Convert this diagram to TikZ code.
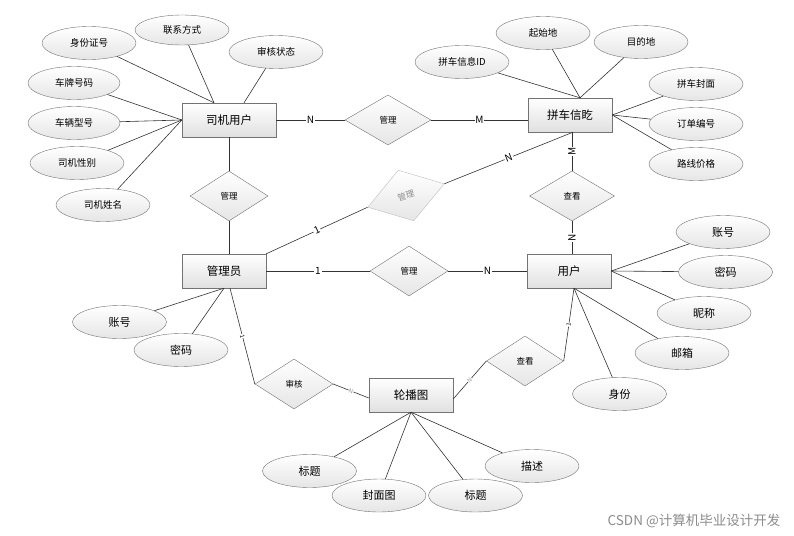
\documentclass[tikz,border=0pt]{standalone}
\usepackage{fontspec}
\setmainfont{Noto Sans CJK SC}
\usetikzlibrary{shapes.geometric,shadows}

\begin{document}
\begin{tikzpicture}[x=1pt, y=-1pt,
    entity/.style={draw=black!55, top color=white, bottom color=black!12,
      minimum width=84pt, minimum height=34pt, inner sep=0pt,
      font=\fontsize{11.5}{13}\selectfont,
      drop shadow={shadow xshift=1.2pt, shadow yshift=-1.2pt, opacity=0.25}},
    attr/.style={ellipse, draw=black!55, top color=white, bottom color=black!10,
      minimum width=94pt, minimum height=33pt, inner sep=0pt,
      font=\fontsize{9.5}{11}\selectfont},
    bigattr/.style={attr, font=\fontsize{11}{13}\selectfont},
    rel/.style={diamond, draw=black!55, top color=white, bottom color=black!10,
      minimum width=78pt, minimum height=50pt, inner sep=0pt,
      font=\fontsize{8.5}{10}\selectfont},
    card/.style={fill=white, inner sep=0.8pt, font=\fontsize{10}{11}\selectfont},
    tick/.style={sloped, fill=white, inner sep=0.3pt, font=\fontsize{6}{7}\selectfont},
    link/.style={draw=black!80, line width=0.6pt}
  ]
    \useasboundingbox[fill=white] (0,0) rectangle (794,535);

    % entities
    \node[entity, minimum width=94pt] (drv)  at (229,120) {司机用户};
    \node[entity] (trip)   at (570,115) {拼车信盵};
    \node[entity] (admin)  at (224,271) {管理员};
    \node[entity] (user)   at (569,271) {用户};
    \node[entity] (banner) at (411,395) {轮播图};

    % relationships
    \node[rel, minimum width=86pt] (rDT) at (388,120) {管理};
    \node[rel] (rDA) at (229,196) {管理};
    \node[rel, minimum width=80pt, minimum height=53pt, rotate=17,
          draw=black!25, text=black!45] (rAT) at (406,195.5) {管理};
    \node[rel] (rAU) at (409,271) {管理};
    \node[rel, minimum width=85pt] (rTU) at (572,196) {查看};
    \node[rel] (rAB) at (294,384) {审核};
    \node[rel, minimum width=77pt] (rUB) at (525,361) {查看};

    % driver attributes
    \node[attr] (dId)    at (89,43)   {身份证号};
    \node[attr, minimum height=30pt] (dTel) at (182,30) {联系方式};
    \node[attr] (dState) at (276,52)  {审核状态};
    \node[attr, minimum width=92pt] (dPlate) at (74,83) {车牌号码};
    \node[attr, minimum width=92pt] (dModel) at (74,123) {车辆型号};
    \node[attr] (dSex)   at (77,163)  {司机性别};
    \node[attr] (dName)  at (103,205) {司机姓名};

    % trip attributes
    \node[attr] (tId)    at (462,62)  {拼车信息ID};
    \node[attr] (tFrom)  at (543,33)  {起始地};
    \node[attr] (tTo)    at (641,42)  {目的地};
    \node[attr] (tCover) at (696,84)  {拼车封面};
    \node[attr] (tOrder) at (696,124) {订单编号};
    \node[attr] (tPrice) at (696,164) {路线价格};

    % admin attributes
    \node[bigattr] (aAcc) at (119.5,322) {账号};
    \node[bigattr] (aPwd) at (181,350)   {密码};

    % user attributes
    \node[bigattr] (uAcc)  at (723,232)   {账号};
    \node[bigattr] (uPwd)  at (725.5,272) {密码};
    \node[bigattr] (uNick) at (704,313)   {昵称};
    \node[bigattr] (uMail) at (682,353)   {邮箱};
    \node[bigattr] (uRole) at (619.5,394) {身份};

    % banner attributes
    \node[bigattr] (bTitle)  at (309.5,471) {标题};
    \node[bigattr] (bCover)  at (379,495.5) {封面图};
    \node[bigattr] (bTitleB) at (475.5,495.5) {标题};
    \node[bigattr] (bDesc)   at (532,466)   {描述};

    % attribute links
    \draw[link] (dId) -- ([xshift=-15pt]drv.north);
    \draw[link] (dTel) -- ([xshift=-15pt]drv.north);
    \draw[link] (dState) -- ([xshift=15pt]drv.north);
    \draw[link] (dPlate) -- (drv.west);
    \draw[link] (dModel) -- (drv.west);
    \draw[link] (dSex) -- (drv.west);
    \draw[link] (dName) -- (drv.west);

    \draw[link] (tId) -- ([xshift=10pt]trip.north);
    \draw[link] (tFrom) -- ([xshift=10pt]trip.north);
    \draw[link] (tTo) -- ([xshift=10pt]trip.north);
    \draw[link] (tCover) -- (trip.east);
    \draw[link] (tOrder) -- (trip.east);
    \draw[link] (tPrice) -- (trip.east);

    \draw[link] (aAcc) -- (admin.south);
    \draw[link] (aPwd) -- (admin.south);

    \draw[link] (uAcc) -- (user.east);
    \draw[link] (uPwd) -- (user.east);
    \draw[link] (uNick) -- (user.east);
    \draw[link] (uMail) -- ([xshift=5pt]user.south);
    \draw[link] (uRole) -- ([xshift=5pt]user.south);

    \foreach \a in {bTitle, bCover, bTitleB, bDesc}
      \draw[link] (\a) -- (banner.south);

    % relationship links
    \draw[link] (drv.east) -- node[card] {N} (rDT.west);
    \draw[link] (rDT.east) -- node[card] {M} (rDT.east -| trip.west);
    \draw[link] (drv.south) -- (rDA.north);
    \draw[link] (rDA.south) -- (rDA.south |- admin.north);
    \draw[link] (admin.north east) -- node[card, sloped] {1} (rAT.west);
    \draw[link] (rAT.east) -- node[card, sloped] {N} ([xshift=3pt]trip.south);
    \draw[link] (admin.east) -- node[card] {1} (rAU.west);
    \draw[link] (rAU.east) -- node[card] {N} (user.west);
    \draw[link] (rTU.north |- trip.south) -- node[card, rotate=90] {M} (rTU.north);
    \draw[link] (rTU.south) -- node[card, rotate=90] {N} (rTU.south |- user.north);
    \draw[link] ([xshift=6pt]admin.south) -- node[tick] {1} (rAB.west);
    \draw[link] (rAB.east) -- node[tick, text=black!40] {N} ([yshift=-3pt]banner.west);
    \draw[link] ([yshift=-4pt]banner.east) -- node[tick, text=black!40] {N} (rUB.west);
    \draw[link] (rUB.east) -- node[tick] {1} ([xshift=5pt]user.south);

    % watermark
    \node[text=black!45, font=\fontsize{13.5}{15}\selectfont] (mark) at (694,521) {CSDN @计算机毕业设计开发};
\end{tikzpicture}
\end{document}
